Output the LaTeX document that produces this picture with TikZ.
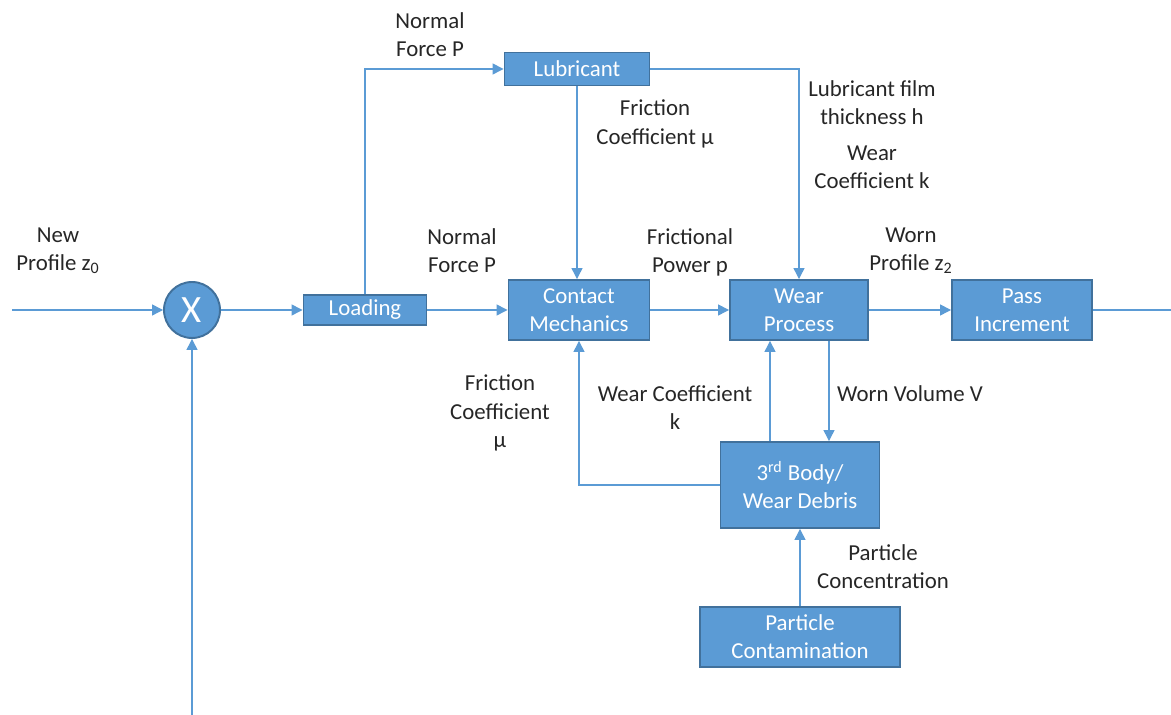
\documentclass[tikz,border=0pt]{standalone}
\usepackage{fontspec}
\setmainfont{Carlito}
\usetikzlibrary{arrows.meta,positioning,calc}
\definecolor{boxfill}{HTML}{5B9BD5}
\definecolor{boxdraw}{HTML}{41719C}
\definecolor{linec}{HTML}{5B9BD5}
\definecolor{txt}{HTML}{262626}
\tikzset{
  blk/.style={draw=boxdraw, line width=1.1pt, fill=boxfill, text=white, align=center, inner sep=0pt, font=\fontsize{13}{16}\selectfont},
  lbl/.style={text=txt, align=center, inner sep=0pt, font=\fontsize{13}{16}\selectfont},
  conn/.style={draw=linec, line width=0.75pt},
  arr/.style={conn, -{Triangle[length=0.22cm,width=0.22cm]}},
}
\begin{document}
\begin{tikzpicture}[x=0.02cm,y=-0.02cm]
\useasboundingbox (0,0) rectangle (1171,715);
% blocks
\node[blk, circle, minimum size=1.12cm, font=\fontsize{22}{26}\selectfont] (x) at (192,310) {X};
\node[blk, minimum width=2.46cm, minimum height=0.6cm] (load) at (365,310) {Loading};
\node[blk, minimum width=2.9cm, minimum height=0.66cm] (lub) at (577,69) {Lubricant};
\node[blk, minimum width=2.82cm, minimum height=1.2cm] (cm) at (579,310) {Contact\\Mechanics};
\node[blk, minimum width=2.76cm, minimum height=1.2cm] (wp) at (799,310) {Wear\\Process};
\node[blk, minimum width=2.8cm, minimum height=1.2cm] (pi) at (1022,310) {Pass\\Increment};
\node[blk, minimum width=3.18cm, minimum height=1.72cm] (tb) at (800,485) {3\textsuperscript{rd} Body/\\Wear Debris};
\node[blk, minimum width=4.0cm, minimum height=1.2cm] (pc) at (800,637) {Particle\\Contamination};
% free ends
\coordinate (in) at (12,310);
\coordinate (bot) at (192,715);
\coordinate (out) at (1171,310);
% connectors
\draw[arr] (in) -- (x.west);
\draw[arr] (bot) -- (x.south);
\draw[arr] (x.east) -- (load.west);
\draw[arr] (load.north) |- (lub.west);
\draw[arr] (load.east) -- (cm.west);
\draw[arr] (lub.south) -- (lub.south |- cm.north);
\draw[arr] (lub.east) -| (wp.north);
\draw[arr] (cm.east) -- (wp.west);
\draw[arr] (wp.east) -- (pi.west);
\draw[conn] (pi.east) -- (out);
\draw[arr] ([xshift=0.6cm]wp.south) -- ([xshift=0.6cm]wp.south |- tb.north);
\draw[arr] ([xshift=-0.6cm]tb.north) -- ([xshift=-0.6cm]tb.north |- wp.south);
\draw[arr] (tb.west) -| (cm.south);
\draw[arr] (pc.north) -- (tb.south);
% labels
\node[lbl] (l1) at (58,251) {New\\Profile z\textsubscript{0}};
\node[lbl] (l2) at (430,35) {Normal\\Force P};
\node[lbl] (l3) at (655,124) {Friction\\Coefficient μ};
\node[lbl] (l4) at (872,103) {Lubricant film\\thickness h};
\node[lbl] (l5) at (872,167) {Wear\\Coefficient k};
\node[lbl] (l6) at (462,251) {Normal\\Force P};
\node[lbl] (l7) at (690,252) {Frictional\\Power p};
\node[lbl] (l8) at (911,251) {Worn\\Profile z\textsubscript{2}};
\node[lbl] (l9) at (500,413) {Friction\\Coefficient\\μ};
\node[lbl] (l10) at (675,408) {Wear Coefficient\\k};
\node[lbl] (l11) at (910,394) {Worn Volume V};
\node[lbl] (l12) at (883,567) {Particle\\Concentration};
\end{tikzpicture}
\end{document}
